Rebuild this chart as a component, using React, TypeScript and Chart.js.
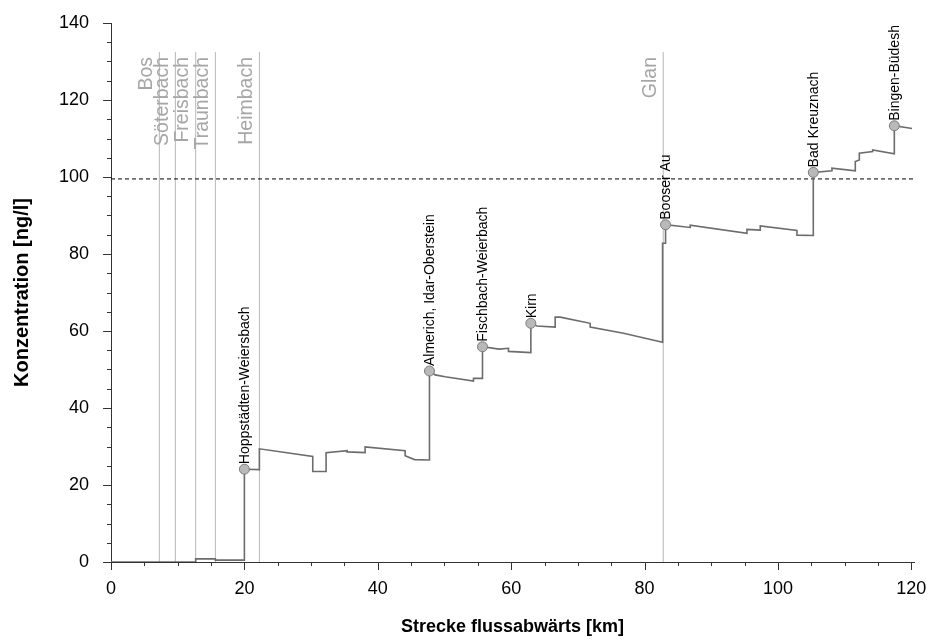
import { useEffect, useRef } from 'react';
import { Chart, registerables } from 'chart.js';

Chart.register(...registerables);

const FONT = '"Liberation Sans", Arial, Helvetica, sans-serif';

// Main concentration profile (km downstream, ng/l)
const lineKm = [0, 12.7, 12.7, 15.65, 15.65, 20.0, 20.0, 22.25, 22.25, 30.25, 30.25, 32.25, 32.25, 35.4, 35.4, 38.1, 38.1, 44.1, 44.1, 45.5, 47.75, 47.75, 48.6, 50.1, 54.35, 54.35, 55.7, 55.7, 58.2, 59.6, 59.6, 62.95, 62.95, 63.85, 66.6, 66.6, 67.35, 71.85, 71.85, 76.85, 82.7, 82.7, 83.15, 83.15, 86.85, 86.85, 95.35, 95.35, 97.35, 97.35, 102.85, 102.85, 105.3, 105.3, 108.1, 108.1, 111.6, 111.6, 112.2, 112.2, 114.2, 114.2, 117.45, 117.45, 120.1];
const lineConc = [0, 0, 0.8, 0.8, 0.5, 0.5, 24.1, 24.0, 29.4, 27.4, 23.5, 23.5, 28.4, 28.9, 28.6, 28.4, 29.9, 28.9, 27.6, 26.6, 26.5, 49.6, 48.6, 48.1, 47.0, 47.7, 47.7, 55.9, 55.3, 55.5, 54.7, 54.4, 62.0, 61.3, 61.0, 63.6, 63.6, 62.0, 61.0, 59.4, 57.1, 82.8, 82.8, 87.6, 86.9, 87.5, 85.4, 86.4, 86.2, 87.3, 86.1, 84.9, 84.8, 101.2, 101.6, 102.3, 101.6, 104.0, 104.4, 106.2, 106.6, 107.0, 106.0, 113.3, 112.6];

// Discharge sites (markers)
const siteNames = ['Hoppstädten-Weiersbach', 'Almerich, Idar-Oberstein', 'Fischbach-Weierbach', 'Kirn', 'Booser Au', 'Bad Kreuznach', 'Bingen-Büdesh'];
const siteKm = [20.0, 47.75, 55.7, 62.95, 83.15, 105.3, 117.45];
const siteConc = [24.1, 49.6, 55.9, 62.0, 87.6, 101.2, 113.3];

// Tributaries
const tributaryNames = ['Bos', 'Söterbach', 'Freisbach', 'Traunbach', 'Heimbach', 'Glan'];
const tributaryKm = [7.25, 9.65, 12.7, 15.65, 22.25, 82.8];
const tributaryTop = 132.5;

// Limit value
const limitValue = 99.5;

// Axes
const xMin = 0;
const xMax = 120.4;
const yMin = 0;
const yMax = 140;
const tickStep = 5;
const labelStep = 20;

const AXIS_COLOR = '#333333';

const isStep = (v: number) => Math.abs(v / tickStep - Math.round(v / tickStep)) < 1e-6;
const isLabel = (v: number) => Math.abs(v / labelStep - Math.round(v / labelStep)) < 1e-6;

const tickMarksPlugin = {
  id: 'tickMarks',
  afterDraw(chart: any) {
    const { ctx } = chart;
    const xs = chart.scales.x;
    const ys = chart.scales.y;
    ctx.save();
    ctx.strokeStyle = AXIS_COLOR;
    ctx.lineWidth = 1;
    ctx.beginPath();
    xs.ticks.forEach((t: any) => {
      if (!isStep(t.value)) return;
      const px = Math.round(xs.getPixelForValue(t.value)) + 0.5;
      const len = isLabel(t.value) ? 8 : 4;
      ctx.moveTo(px, xs.top);
      ctx.lineTo(px, xs.top + len);
    });
    ys.ticks.forEach((t: any) => {
      if (!isStep(t.value)) return;
      const py = Math.round(ys.getPixelForValue(t.value)) + 0.5;
      const len = isLabel(t.value) ? 8 : 4;
      ctx.moveTo(ys.right, py);
      ctx.lineTo(ys.right - len, py);
    });
    ctx.stroke();
    ctx.restore();
  },
};

const labelsPlugin = {
  id: 'riverLabels',
  afterDatasetsDraw(chart: any) {
    const { ctx, chartArea } = chart;
    const xs = chart.scales.x;
    const ys = chart.scales.y;
    ctx.save();
    // tributary labels
    ctx.font = `19.5px ${FONT}`;
    ctx.fillStyle = '#a6a6a6';
    ctx.textAlign = 'right';
    ctx.textBaseline = 'middle';
    tributaryNames.forEach((name, i) => {
      const px = xs.getPixelForValue(tributaryKm[i]);
      ctx.save();
      ctx.translate(px - 13, chartArea.top + 34);
      ctx.rotate(-Math.PI / 2);
      ctx.fillText(name, 0, 0);
      ctx.restore();
    });
    // site labels
    ctx.font = `14px ${FONT}`;
    ctx.fillStyle = '#000000';
    ctx.textAlign = 'left';
    siteNames.forEach((name, i) => {
      const px = xs.getPixelForValue(siteKm[i]);
      const py = ys.getPixelForValue(siteConc[i]);
      ctx.save();
      ctx.translate(px + 1, py - 5);
      ctx.rotate(-Math.PI / 2);
      ctx.fillText(name, 0, 0);
      ctx.restore();
    });
    ctx.restore();
  },
};

export default function App() {
  const canvasRef = useRef<HTMLCanvasElement | null>(null);

  useEffect(() => {
    document.body.style.margin = '0';
    const canvas = canvasRef.current;
    if (!canvas) return;

    const tributaryDatasets = tributaryKm.map((km, i) => ({
      label: tributaryNames[i],
      data: [
        { x: km, y: yMin },
        { x: km, y: tributaryTop },
      ],
      showLine: true,
      borderColor: '#b8b8b8',
      borderWidth: 1,
      pointRadius: 0,
      order: 4,
    }));

    const chart = new Chart(canvas, {
      type: 'scatter',
      data: {
        datasets: [
          ...tributaryDatasets,
          {
            label: 'Grenzwert',
            data: [
              { x: xMin, y: limitValue },
              { x: xMax, y: limitValue },
            ],
            showLine: true,
            borderColor: '#000000',
            borderWidth: 1,
            borderDash: [4, 3],
            pointRadius: 0,
            order: 3,
          },
          {
            label: 'Konzentration',
            data: lineKm.map((x, i) => ({ x, y: lineConc[i] })),
            showLine: true,
            borderColor: '#6c6c6c',
            borderWidth: 1.6,
            pointRadius: 0,
            order: 2,
          },
          {
            label: 'Einleiter',
            data: siteKm.map((x, i) => ({ x, y: siteConc[i] })),
            showLine: false,
            pointRadius: 5,
            backgroundColor: '#b9b9b9',
            borderColor: '#7c7c7c',
            borderWidth: 1,
            order: 1,
          },
        ],
      },
      options: {
        responsive: false,
        animation: false,
        devicePixelRatio: 1,
        layout: { padding: { left: 0, right: 16, top: 23, bottom: 0 } },
        plugins: {
          legend: { display: false },
          tooltip: { enabled: false },
        },
        scales: {
          x: {
            type: 'linear',
            min: xMin,
            max: xMax,
            afterFit: (s: any) => {
              s.height = 79;
            },
            afterBuildTicks: (s: any) => {
              s.ticks = s.ticks.filter((t: any) => isStep(t.value));
            },
            ticks: {
              stepSize: tickStep,
              autoSkip: false,
              includeBounds: false,
              maxRotation: 0,
              padding: 0,
              color: '#000000',
              font: { family: FONT, size: 18 },
              callback: (v: any) => (isLabel(Number(v)) ? String(v) : ''),
            },
            grid: { display: false, drawTicks: true, tickLength: 16 },
            border: { display: true, color: AXIS_COLOR, width: 1 },
            title: {
              display: true,
              text: 'Strecke flussabwärts [km]',
              color: '#000000',
              font: { family: FONT, size: 18, weight: 'bold' },
              padding: { top: 0, bottom: 3 },
            },
          },
          y: {
            type: 'linear',
            min: yMin,
            max: yMax,
            afterFit: (s: any) => {
              s.width = 111;
            },
            ticks: {
              stepSize: tickStep,
              autoSkip: false,
              padding: 0,
              color: '#000000',
              font: { family: FONT, size: 18 },
              callback: (v: any) => (isLabel(Number(v)) ? String(v) : ''),
            },
            grid: { display: false, drawTicks: true, tickLength: 22 },
            border: { display: true, color: AXIS_COLOR, width: 1 },
            title: {
              display: true,
              text: 'Konzentration [ng/l]',
              color: '#000000',
              font: { family: FONT, size: 20, weight: 'bold' },
              padding: { top: 10, bottom: 0 },
            },
          },
        },
      },
      plugins: [tickMarksPlugin, labelsPlugin],
    } as any);

    return () => {
      chart.destroy();
    };
  }, []);

  return (
    <div style={{ width: 930, height: 641 }}>
      <canvas ref={canvasRef} width={930} height={641} style={{ display: 'block' }} />
    </div>
  );
}
